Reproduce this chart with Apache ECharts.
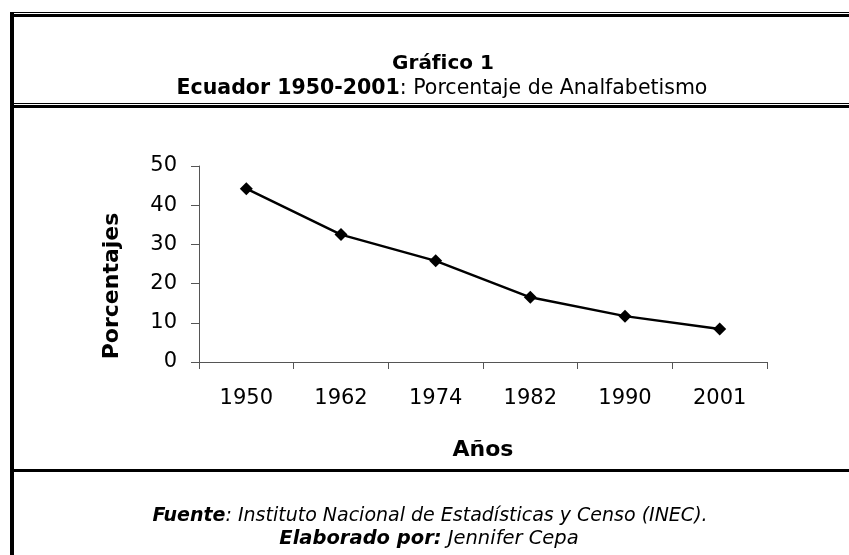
<!DOCTYPE html>
<html lang="es">
<head>
    <meta charset="UTF-8">
    <title>Gráfico 1</title>
    <script src="https://cdn.jsdelivr.net/npm/echarts@6/dist/echarts.min.js"></script>
    <style>
        html, body { margin: 0; padding: 0; background: #fff; }
        #main { width: 849px; height: 555px; }
    </style>
</head>
<body>
<div id="main"></div>
<script type="text/javascript">
    // datos
    var anios = ['1950', '1962', '1974', '1982', '1990', '2001'];
    var analfabetismo = [44.2, 32.5, 25.8, 16.5, 11.7, 8.4];
    var yTicks = [0, 10, 20, 30, 40, 50];

    var fuente = '"DejaVu Sans", Arial, sans-serif';
    var myChart = echarts.init(document.getElementById('main'));

    myChart.setOption({
        backgroundColor: '#fff',
        animation: false,
        grid: { left: 199, right: 82, top: 166, bottom: 193 },
        xAxis: {
            type: 'category',
            data: anios,
            boundaryGap: true,
            name: 'Años',
            nameLocation: 'middle',
            nameGap: 77,
            nameTextStyle: { fontFamily: fuente, fontSize: 22, fontWeight: 'bold', color: '#000' },
            axisLine: { lineStyle: { color: '#555', width: 1 } },
            axisTick: { show: true, length: 7, lineStyle: { color: '#555' } },
            axisLabel: { fontFamily: fuente, fontSize: 21, color: '#000', margin: 26 },
            splitLine: { show: false }
        },
        yAxis: {
            type: 'value',
            min: yTicks[0],
            max: yTicks[yTicks.length - 1],
            interval: 10,
            name: 'Porcentajes',
            nameLocation: 'middle',
            nameGap: 76,
            // el titulo del eje esta algo mas abajo que el centro
            nameTextStyle: { fontFamily: fuente, fontSize: 22, fontWeight: 'bold', color: '#000', padding: [0, 44, 0, 0] },
            axisLine: { show: true, lineStyle: { color: '#555', width: 1 } },
            axisTick: { show: true, length: 8, lineStyle: { color: '#555' } },
            axisLabel: { fontFamily: fuente, fontSize: 21, color: '#000', margin: 22 },
            splitLine: { show: false }
        },
        series: [{
            type: 'line',
            data: analfabetismo,
            symbol: 'diamond',
            symbolSize: 13,
            lineStyle: { color: '#000', width: 2.5 },
            itemStyle: { color: '#000' }
        }],
        graphic: [
            // bordes del recuadro
            { type: 'rect', shape: { x: 10, y: 12, width: 839, height: 1 }, style: { fill: '#000' } },
            { type: 'rect', shape: { x: 10, y: 14, width: 839, height: 3 }, style: { fill: '#000' } },
            { type: 'rect', shape: { x: 10, y: 12, width: 4, height: 543 }, style: { fill: '#000' } },
            { type: 'rect', shape: { x: 12, y: 103, width: 837, height: 1 }, style: { fill: '#000' } },
            { type: 'rect', shape: { x: 14, y: 105, width: 835, height: 3 }, style: { fill: '#000' } },
            { type: 'rect', shape: { x: 14, y: 469, width: 835, height: 3 }, style: { fill: '#000' } },
            // titulos
            {
                type: 'text', x: 443, y: 64,
                style: { text: 'Gráfico 1', font: 'bold 20px ' + fuente, fill: '#000', align: 'center', verticalAlign: 'middle' }
            },
            {
                type: 'text', x: 442, y: 89,
                style: {
                    text: '{b|Ecuador 1950-2001}{n|: Porcentaje de Analfabetismo}',
                    align: 'center', verticalAlign: 'middle',
                    rich: {
                        b: { font: 'bold 20.5px ' + fuente, fill: '#000' },
                        n: { font: '20.5px ' + fuente, fill: '#000' }
                    }
                }
            },
            // fuente
            {
                type: 'text', x: 430, y: 516,
                style: {
                    text: '{b|Fuente}{n|: Instituto Nacional de Estadísticas y Censo (INEC).}',
                    align: 'center', verticalAlign: 'middle',
                    rich: {
                        b: { font: 'italic bold 19px ' + fuente, fill: '#000' },
                        n: { font: 'italic 19px ' + fuente, fill: '#000' }
                    }
                }
            },
            {
                type: 'text', x: 429, y: 539,
                style: {
                    text: '{b|Elaborado por:}{n| Jennifer Cepa}',
                    align: 'center', verticalAlign: 'middle',
                    rich: {
                        b: { font: 'italic bold 19.5px ' + fuente, fill: '#000' },
                        n: { font: 'italic 19.5px ' + fuente, fill: '#000' }
                    }
                }
            }
        ]
    });
</script>
</body>
</html>
